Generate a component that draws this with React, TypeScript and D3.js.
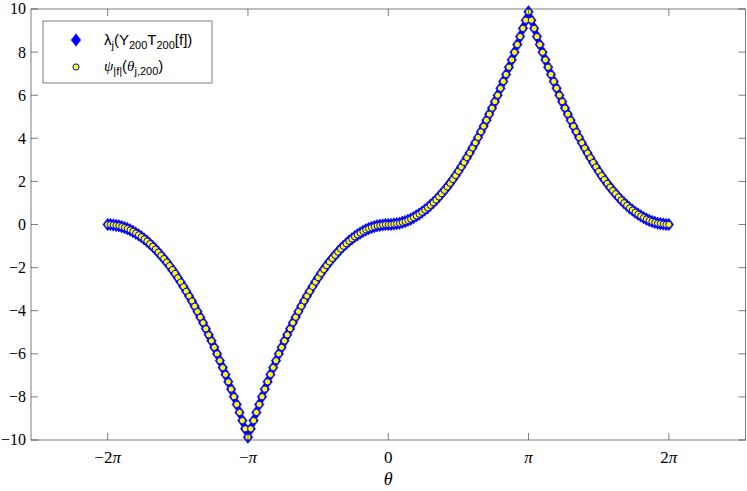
import React from "react";
import * as d3 from "d3";

// theta grid: 201 evenly spaced samples from -2π to 2π
const thetaStart = -2 * Math.PI;
const thetaEnd = 2 * Math.PI;
const thetaCount = 201;

// λ_j(Y_200 T_200[f]) values
const lambdaValues = [
  0, 0, -0.02, -0.04, -0.06, -0.1, -0.14, -0.19, -0.25, -0.32, -0.4, -0.48, -0.57, -0.67, -0.77, -0.89, -1.01,
  -1.14, -1.28, -1.43, -1.58, -1.74, -1.91, -2.09, -2.27, -2.47, -2.67, -2.88, -3.1, -3.32, -3.55, -3.79, -4.04,
  -4.3, -4.56, -4.84, -5.12, -5.4, -5.7, -6.0, -6.32, -6.64, -6.96, -7.3, -7.64, -7.99, -8.35, -8.72, -9.1, -9.48,
  -9.87,
  -9.48, -9.1, -8.72, -8.35, -7.99, -7.64, -7.3, -6.96, -6.64, -6.32, -6.0, -5.7, -5.4, -5.12, -4.84, -4.56,
  -4.3, -4.04, -3.79, -3.55, -3.32, -3.1, -2.88, -2.67, -2.47, -2.27, -2.09, -1.91, -1.74, -1.58, -1.43, -1.28,
  -1.14, -1.01, -0.89, -0.77, -0.67, -0.57, -0.48, -0.4, -0.32, -0.25, -0.19, -0.14, -0.1, -0.06, -0.04, -0.02,
  0, 0,
  0, 0.02, 0.04, 0.06, 0.1, 0.14, 0.19, 0.25, 0.32, 0.4, 0.48, 0.57, 0.67, 0.77, 0.89, 1.01, 1.14, 1.28, 1.43,
  1.58, 1.74, 1.91, 2.09, 2.27, 2.47, 2.67, 2.88, 3.1, 3.32, 3.55, 3.79, 4.04, 4.3, 4.56, 4.84, 5.12, 5.4, 5.7,
  6.0, 6.32, 6.64, 6.96, 7.3, 7.64, 7.99, 8.35, 8.72, 9.1, 9.48, 9.87,
  9.48, 9.1, 8.72, 8.35, 7.99, 7.64, 7.3, 6.96, 6.64, 6.32, 6.0, 5.7, 5.4, 5.12, 4.84, 4.56, 4.3, 4.04, 3.79,
  3.55, 3.32, 3.1, 2.88, 2.67, 2.47, 2.27, 2.09, 1.91, 1.74, 1.58, 1.43, 1.28, 1.14, 1.01, 0.89, 0.77, 0.67,
  0.57, 0.48, 0.4, 0.32, 0.25, 0.19, 0.14, 0.1, 0.06, 0.04, 0.02, 0, 0,
];
// ψ_|f|(θ_j,200) coincides with the eigenvalues
const psiValues = lambdaValues;

const xTickValues = [-2 * Math.PI, -Math.PI, 0, Math.PI, 2 * Math.PI];
const xTickLabels = [["−2", "π"], ["−", "π"], ["0", ""], ["", "π"], ["2", "π"]];
const yTickValues = [-10, -8, -6, -4, -2, 0, 2, 4, 6, 8, 10];

const W = 747;
const H = 491;
const M = { left: 31, right: 745.5, top: 9, bottom: 440 };
const AX = "#262626";
const serif = "'Liberation Serif', 'DejaVu Serif', serif";
const sans = "'Liberation Sans', Arial, Helvetica, sans-serif";

export default function App() {
  const thetas = d3.range(thetaCount).map((i) => thetaStart + ((thetaEnd - thetaStart) * i) / (thetaCount - 1));
  const x = d3.scaleLinear().domain([-8, 8]).range([M.left, M.right]);
  const y = d3.scaleLinear().domain([-10, 10]).range([M.bottom, M.top]);
  const tick = 7;
  const diamond = (cx: number, cy: number) =>
    `M${cx},${cy - 6.3}L${cx + 4.8},${cy}L${cx},${cy + 6.3}L${cx - 4.8},${cy}Z`;
  const serifStyle = { fontFamily: serif };
  const sansStyle = { fontFamily: sans };

  return (
    <svg width={W} height={H} style={{ position: "fixed", left: 0, top: 0, background: "#fff" }}>
      <rect x={0} y={0} width={W} height={H} fill="#fff" />
      {/* markers */}
      <g>
        {thetas.map((t, i) => (
          <path key={"d" + i} d={diamond(x(t), y(lambdaValues[i]))} fill="#0000ff" stroke="#0000ff" strokeWidth={0.5} />
        ))}
        {thetas.map((t, i) => (
          <circle key={"c" + i} cx={x(t)} cy={y(psiValues[i])} r={3.1} fill="#ffff00" stroke="#0000ff" strokeWidth={1} />
        ))}
      </g>
      {/* box */}
      <rect x={M.left} y={M.top} width={M.right - M.left} height={M.bottom - M.top} fill="none" stroke={AX} strokeWidth={0.6} />
      {/* x ticks */}
      {xTickValues.map((v, i) => (
        <g key={"xt" + i}>
          <line x1={x(v)} x2={x(v)} y1={M.bottom} y2={M.bottom - tick} stroke={AX} strokeWidth={0.6} />
          <line x1={x(v)} x2={x(v)} y1={M.top} y2={M.top + tick} stroke={AX} strokeWidth={0.6} />
          <text x={x(v)} y={M.bottom + 23} textAnchor="middle" style={serifStyle} fontSize={17} fill="#000">
            {xTickLabels[i][0]}
            <tspan fontStyle="italic">{xTickLabels[i][1]}</tspan>
          </text>
        </g>
      ))}
      {/* y ticks */}
      {yTickValues.map((v, i) => (
        <g key={"yt" + i}>
          <line x1={M.left} x2={M.left + tick} y1={y(v)} y2={y(v)} stroke={AX} strokeWidth={0.6} />
          <line x1={M.right} x2={M.right - tick} y1={y(v)} y2={y(v)} stroke={AX} strokeWidth={0.6} />
          <text x={M.left - 5} y={y(v)} dy="0.34em" textAnchor="end" style={serifStyle} fontSize={16} fill="#000">
            {v < 0 ? "−" + Math.abs(v) : String(v)}
          </text>
        </g>
      ))}
      <text x={x(0)} y={M.bottom + 45} textAnchor="middle" style={serifStyle} fontStyle="italic" fontSize={18} fill="#000">
        θ
      </text>
      {/* legend */}
      <g>
        <rect x={43} y={21} width={169} height={62} fill="#fff" stroke={AX} strokeWidth={0.6} />
        <path d={diamond(76, 40)} fill="#0000ff" stroke="#0000ff" strokeWidth={0.5} />
        <circle cx={76} cy={67} r={3.1} fill="#ffff00" stroke="#0000ff" strokeWidth={1} />
        <text x={104} y={45} style={sansStyle} fontSize={15} fill="#000">
          λ<tspan fontSize={11} dy={4}>j</tspan>
          <tspan dy={-4}>(Y</tspan>
          <tspan fontSize={11} dy={4}>200</tspan>
          <tspan dy={-4}>T</tspan>
          <tspan fontSize={11} dy={4}>200</tspan>
          <tspan dy={-4}>[f])</tspan>
        </text>
        <text x={104} y={71} style={sansStyle} fontSize={15} fill="#000">
          <tspan style={serifStyle} fontStyle="italic">ψ</tspan>
          <tspan fontSize={11} dy={4}>|f|</tspan>
          <tspan dy={-4}>(</tspan>
          <tspan style={serifStyle} fontStyle="italic">θ</tspan>
          <tspan fontSize={11} dy={4}>j,200</tspan>
          <tspan dy={-4}>)</tspan>
        </text>
      </g>
    </svg>
  );
}
